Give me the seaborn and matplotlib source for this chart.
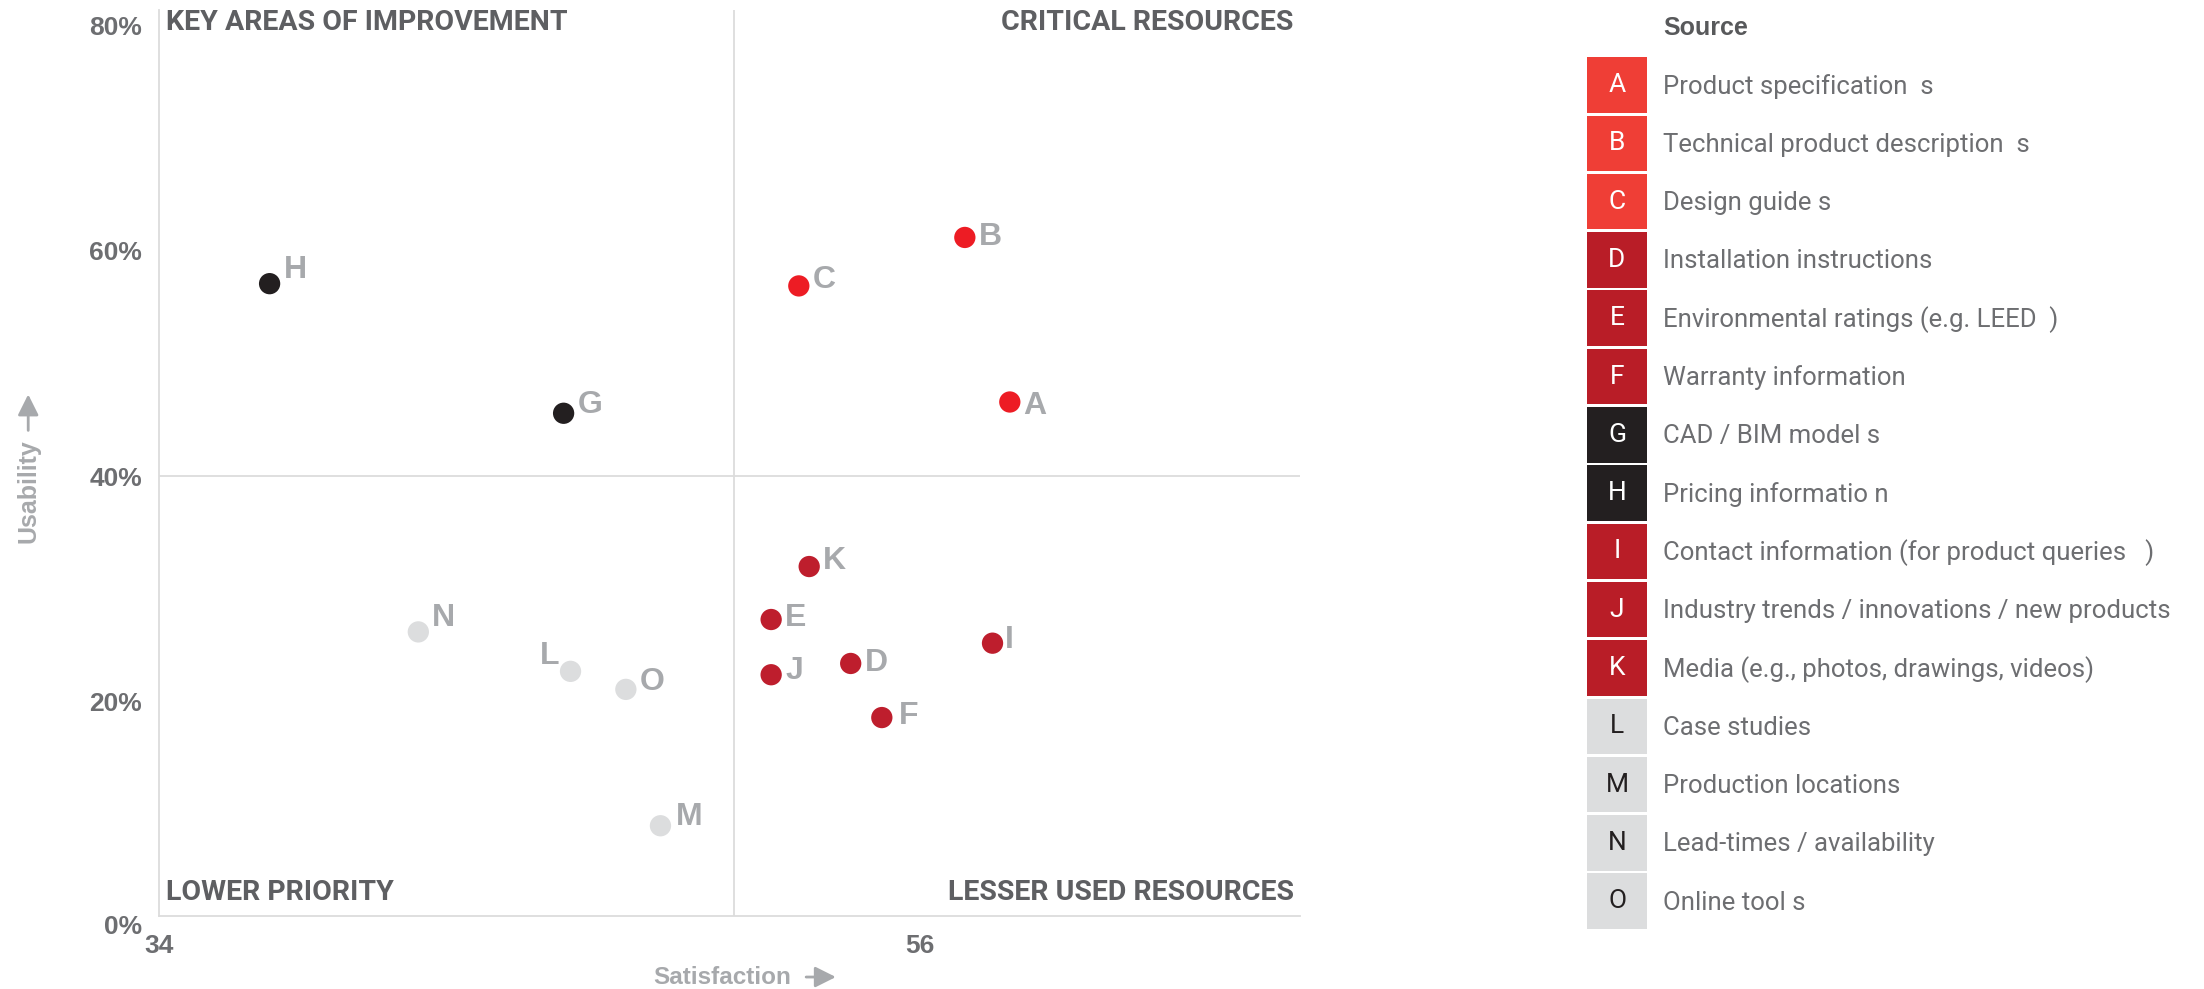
import matplotlib
matplotlib.use("Agg")
import matplotlib.pyplot as plt
from matplotlib import font_manager
from matplotlib.patches import Rectangle, FancyArrowPatch
import seaborn as sns
import pandas as pd

# ---- data -------------------------------------------------------------
codes = ["A", "B", "C", "D", "E", "F", "G", "H", "I", "J", "K", "L", "M", "N", "O"]
sources = [
    "Product specification  s",
    "Technical product description  s",
    "Design guide s",
    "Installation instructions",
    "Environmental ratings (e.g. LEED  )",
    "Warranty information",
    "CAD / BIM model s",
    "Pricing informatio n",
    "Contact information (for product queries   )",
    "Industry trends / innovations / new products",
    "Media (e.g., photos, drawings, videos)",
    "Case studies",
    "Production locations",
    "Lead-times / availability",
    "Online tool s",
]
satisfaction = [58.6, 57.3, 52.5, 54.0, 51.7, 54.9, 45.7, 37.2, 58.1, 51.7, 52.8, 45.9, 48.5, 41.5, 47.5]
usability = [46.6, 61.2, 56.9, 23.4, 27.3, 18.6, 45.6, 57.1, 25.2, 22.4, 32.0, 22.7, 9.0, 26.2, 21.1]
groups = ["critical", "critical", "critical", "lesser", "lesser", "lesser", "key", "key",
          "lesser", "lesser", "lesser", "lower", "lower", "lower", "lower"]

sat_ticks = [34, 56]
use_ticks = [20, 40, 60, 80]
sat_mid = 50.64
use_mid = 40

# ---- style ------------------------------------------------------------
dot_colors = {"critical": "#ED1C24", "lesser": "#BE1E2D", "key": "#231F20", "lower": "#DCDDDE"}
box_colors = {"critical": "#EF3E36", "lesser": "#B91D27", "key": "#231F20", "lower": "#DCDDDE"}
box_text = {"critical": "white", "lesser": "white", "key": "white", "lower": "#231F20"}

# label offsets (points) relative to each dot
label_off = {"A": (10, -3), "B": (10, 0), "C": (10, 4), "D": (10, 0), "E": (10, 1),
             "F": (12, 1), "G": (10, 6), "H": (10, 10), "I": (9, 2), "J": (10, 3),
             "K": (10, 4), "L": (-8, 11), "M": (11, 6), "N": (10, 10), "O": (10, 5)}

sns.set_theme(style="white")
installed = {f.name for f in font_manager.fontManager.ttflist}
narrow = "Liberation Sans Narrow" if "Liberation Sans Narrow" in installed else "Roboto"
plain = "Liberation Sans" if "Liberation Sans" in installed else "DejaVu Sans"
plt.rcParams["font.family"] = [plain, "DejaVu Sans"]

GRID = "#DCDCDC"
TICK = "#6D6E71"
SOFT = "#A7A9AC"
QUAD = "#5E5F62"

df = pd.DataFrame({"code": codes, "source": sources, "satisfaction": satisfaction,
                   "usability": usability, "group": groups})

fig = plt.figure(figsize=(22.04, 9.89), dpi=100)
ax = fig.add_axes([0.0721, 0.0739, 0.5179, 0.9162])

ax.axvline(sat_mid, color=GRID, lw=1.3, zorder=0)
ax.axhline(use_mid, color=GRID, lw=1.3, zorder=0)

sns.scatterplot(data=df, x="satisfaction", y="usability", hue="group",
                palette=dot_colors, s=235, linewidth=0, legend=False, ax=ax, zorder=3)

for c, x, y in zip(codes, satisfaction, usability):
    dx, dy = label_off[c]
    ax.annotate(c, (x, y), xytext=(dx, dy), textcoords="offset points",
                ha="left" if dx > 0 else "right", va="center",
                fontsize=23, fontweight="bold", color=SOFT, zorder=4)

ax.set_xlim(34, 67)
ax.set_ylim(1.0, 81.4)
ax.set_xticks(sat_ticks)
ax.set_xticklabels([str(t) for t in sat_ticks])
ax.set_yticks(use_ticks)
ax.set_yticklabels([f"{t}%" for t in use_ticks])
ax.annotate("0%", xy=(0, 0), xycoords=("axes fraction", "data"), xytext=(-12, 0),
            textcoords="offset points", ha="right", va="center",
            fontsize=19, fontweight="bold", color=TICK, annotation_clip=False)
ax.tick_params(axis="both", length=0, labelsize=19, colors=TICK)
ax.tick_params(axis="y", pad=12)
ax.tick_params(axis="x", pad=13)
for lab in ax.get_xticklabels() + ax.get_yticklabels():
    lab.set_fontweight("bold")
ax.set_xlabel("")
ax.set_ylabel("")
for side in ["top", "right"]:
    ax.spines[side].set_visible(False)
for side in ["left", "bottom"]:
    ax.spines[side].set_color(GRID)
    ax.spines[side].set_linewidth(1.3)

qkw = dict(fontsize=20.5, fontweight="bold", color=QUAD, family=narrow)
ax.text(0.006, 0.986, "KEY AREAS OF IMPROVEMENT", transform=ax.transAxes, ha="left", va="center", **qkw)
ax.text(0.994, 0.986, "CRITICAL RESOURCES", transform=ax.transAxes, ha="right", va="center", **qkw)
ax.text(0.006, 0.026, "LOWER PRIORITY", transform=ax.transAxes, ha="left", va="center", **qkw)
ax.text(0.994, 0.026, "LESSER USED RESOURCES", transform=ax.transAxes, ha="right", va="center", **qkw)

# axis titles with arrows
fig.text(0.0128, 0.503, "Usability", rotation=90, ha="center", va="center",
         fontsize=18, fontweight="bold", color=SOFT)
fig.patches.append(FancyArrowPatch(
    (0.0128, 0.562), (0.0128, 0.604), transform=fig.transFigure,
    arrowstyle="-|>,head_length=0.9,head_width=0.45", mutation_scale=14,
    color=SOFT, lw=2.0))
fig.text(0.2962, 0.0121, "Satisfaction", ha="left", va="center",
         fontsize=17.5, fontweight="bold", color=SOFT)
fig.patches.append(FancyArrowPatch(
    (0.3645, 0.0121), (0.3805, 0.0121), transform=fig.transFigure,
    arrowstyle="-|>,head_length=0.9,head_width=0.45", mutation_scale=14,
    color=SOFT, lw=2.0))

# ---- source key (pixel coordinates of the figure) ---------------------
lg = fig.add_axes([0, 0, 1, 1], zorder=-1)
lg.set_xlim(0, 2204)
lg.set_ylim(989, 0)
lg.axis("off")
key_x, text_x = 1587, 1663
lg.text(text_x, 28, "Source", ha="left", va="center", fontsize=18, fontweight="bold",
        color="#58595B", family=plain)
row0, step, box_w, box_h = 85, 58.3, 60, 55.5
for i, (c, s, g) in enumerate(zip(codes, sources, groups)):
    yc = row0 + i * step
    lg.add_patch(Rectangle((key_x, yc - box_h / 2), box_w, box_h, color=box_colors[g], lw=0))
    lg.text(key_x + box_w / 2, yc, c, ha="center", va="center", fontsize=19,
            color=box_text[g], family=narrow, fontweight="normal")
    lg.text(text_x, yc + 1.5, s, ha="left", va="center", fontsize=18.5, color=TICK, family=narrow)

fig.savefig("out.png", dpi=100)
